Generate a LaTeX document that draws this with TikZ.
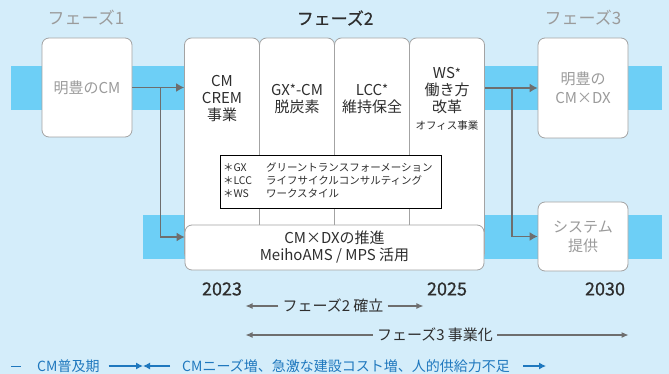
\documentclass[tikz,border=0pt]{standalone}
\usepackage{fontspec}
\setmainfont{Noto Sans CJK JP}
\newfontfamily\medio[FakeBold=0.7]{Noto Sans CJK JP}
\usepackage{tikz}
\usetikzlibrary{arrows.meta}
\definecolor{fondo}{HTML}{D4EDFA}
\definecolor{banda}{HTML}{6DCFF6}
\definecolor{borde}{HTML}{A3A3A3}
\definecolor{gris}{HTML}{6E6E6E}
\definecolor{textogris}{HTML}{9B9B9B}
\definecolor{azul}{HTML}{1F78BE}
\definecolor{oscuro}{HTML}{2E2E2E}
\newcommand{\asterisco}{\raisebox{0.5pt}{\fontsize{13}{13}\selectfont *}}

\begin{document}
\begin{tikzpicture}[x=1pt,y=-1pt,
	caja/.style={draw=borde,fill=white,line width=0.8pt,rounded corners=7pt,inner sep=0pt,align=center},
	fase/.style={font=\fontsize{17}{19}\selectfont},
	texto/.style={font=\fontsize{15}{17}\selectfont,align=center,text=oscuro},
	textogr/.style={font=\fontsize{15}{19}\selectfont,align=center,text=textogris},
	anio/.style={font=\fontsize{18}{20}\selectfont\medio,text=oscuro},
	linea/.style={font=\fontsize{15}{17}\selectfont,text=oscuro,inner sep=4pt},
	azultexto/.style={font=\fontsize{14}{16}\selectfont,text=azul,inner sep=0pt,anchor=west},
	flecha/.style={draw=gris,line width=1.3pt,-{Latex[length=8pt,width=9pt]}},
	tiempo/.style={draw=gris,line width=1.1pt,-{Latex[length=7pt,width=6pt]}},
	azulflecha/.style={draw=azul,line width=1.1pt,-{Latex[length=7pt,width=7pt]}}]
	\fill[fondo] (0,0) rectangle (669,374);
	\useasboundingbox (0,0) rectangle (669,374);
	% bandas
	\fill[banda] (11,66) rectangle (662,110);
	\fill[banda] (143,215) rectangle (662,259);
	% titulos de fase
	\node[fase,text=textogris] (fase1) at (86,18) {フェーズ1};
	\node[fase,text=oscuro,font=\fontsize{17}{19}\selectfont\medio] (fase2) at (335,18) {フェーズ2};
	\node[fase,text=textogris] (fase3) at (583,18) {フェーズ3};
	% cajas laterales
	\node[caja,textogr,minimum width=90pt,minimum height=99pt] (f1) at (87,87.5) {明豊のCM};
	\node[caja,textogr,minimum width=90pt,minimum height=100pt] (f3) at (583,88) {明豊の\\CM×DX};
	\node[caja,textogr,minimum width=90pt,minimum height=69pt] (s) at (583,236.5) {システム\\提供};
	% columnas de la fase 2
	\foreach \Xc [count=\i] in {222,297,372,447}
	{
		\node[caja,minimum width=75pt,minimum height=222pt] (c\i) at (\Xc,149) {};
	}
	\foreach \Xc/\Texto [count=\i] in 
	{222/{CM\\CREM\\事業},297/{GX\asterisco-CM\\脱炭素},372/{LCC\asterisco\\維持保全},
	447/{WS\asterisco\\働き方\\改革\\{\fontsize{10.5}{13}\selectfont オフィス事業}}}
	{
		\node[texto] (t\i) at (\Xc,99) {\Texto};
	}
	\node[draw=black,fill=white,line width=0.6pt,minimum width=221pt,minimum height=53pt,
		inner sep=0pt,font=\fontsize{10.5}{13}\selectfont,text=oscuro] (nota) at (330.5,181.5)
		{\begin{tabular}{@{}p{43pt}@{}p{172pt}@{}}
			＊GX & グリーントランスフォーメーション\\
			＊LCC & ライフサイクルコンサルティング\\
			＊WS & ワークスタイル
		\end{tabular}};
	\node[caja,texto,minimum width=299pt,minimum height=45pt] (dx) at (334.5,247.5) {CM×DXの推進\\MeihoAMS / MPS 活用};
	% flechas
	\draw[flecha] (f1.east) -- (f1.east -| c1.west);
	\draw[flecha] ([xshift=28pt]f1.east) |- ([yshift=10.5pt]dx.west);
	\draw[flecha] (c4.east |- f3.west) -- (f3.west);
	\draw[flecha] ([xshift=27pt]c4.east |- f3.west) |- (s.west);
	% anos
	\foreach \Xc/\Texto in {222/2023,447/2025,605/2030}
	{
		\node[anio] (y\Texto) at (\Xc,289) {\Texto};
	}
	\node[linea] (e2) at (333,306) {フェーズ2 確立};
	\draw[tiempo] (e2.west) -- (y2023.east |- e2.west);
	\draw[tiempo] (e2.east) -- (y2025.west |- e2.east);
	\node[linea] (e3) at (435,335) {フェーズ3 事業化};
	\draw[tiempo] (e3.west) -- (y2023.east |- e3.west);
	\draw[tiempo] (e3.east) -- (y2030.east |- e3.east);
	% linea azul de abajo
	\node[azultexto] (b1) at (11,366) {\rule[4.5pt]{10pt}{1.1pt}\hspace{16pt}CM普及期};
	\node[azultexto] (b2) at (182,366) {CMニーズ増、急激な建設コスト増、人的供給力不足};
	\coordinate (m) at (143,366);
	\draw[azulflecha] ([xshift=9pt]b1.east) -- (m);
	\draw[azulflecha] ([xshift=-12pt]b2.west) -- (m);
	\draw[azulflecha] ([xshift=13pt]b2.east) -- ([xshift=36pt]b2.east);
\end{tikzpicture}
\end{document}
